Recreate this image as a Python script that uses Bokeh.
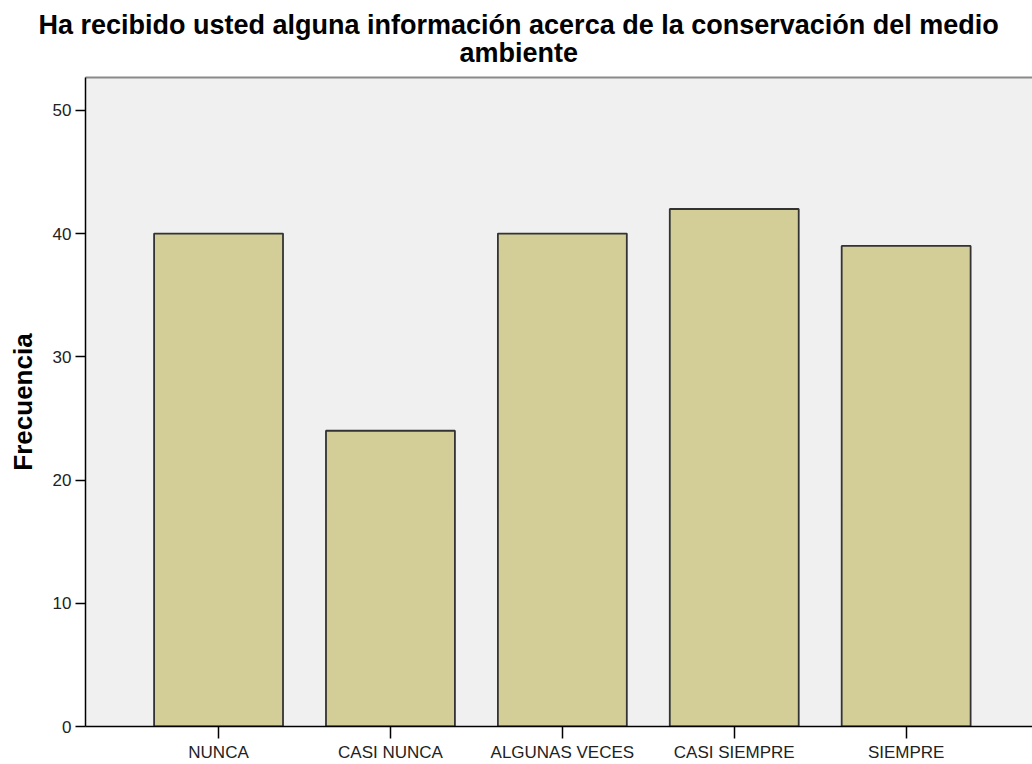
from bokeh.plotting import figure
from bokeh.models import Range1d, FixedTicker, LinearAxis, Title
from bokeh.embed import file_html
from bokeh.resources import INLINE

# ---- data ----
categories = ["NUNCA", "CASI NUNCA", "ALGUNAS VECES", "CASI SIEMPRE", "SIEMPRE"]
frecuencia = [40, 24, 40, 42, 39]
y_ticks = [0, 10, 20, 30, 40, 50]
title_lines = ["Ha recibido usted alguna información acerca de la conservación del medio",
               "ambiente"]
y_label = "Frecuencia"

positions = list(range(len(categories)))
FONT = "Liberation Sans"

p = figure(width=1032, height=764, output_backend="svg", toolbar_location=None,
           x_range=Range1d(-0.774, len(categories) - 1 + 0.735),
           y_range=Range1d(0, 52.67),
           min_border_left=85, min_border_right=0, min_border_top=77, min_border_bottom=36)
p.title = None
p.background_fill_color = "#F0F0F0"
p.border_fill_color = "white"
p.outline_line_color = None
p.xgrid.visible = False
p.ygrid.visible = False

p.vbar(x=positions, top=frecuencia, width=0.75, fill_color="#D3CE97",
       line_color="#333333", line_width=1.8)

# y axis
ya = p.yaxis[0]
ya.ticker = FixedTicker(ticks=y_ticks)
ya.minor_tick_line_color = None
ya.major_tick_in = 0
ya.major_tick_out = 10
ya.major_tick_line_color = "black"
ya.major_tick_line_width = 1.5
ya.axis_line_color = "black"
ya.axis_line_width = 1.5
ya.major_label_text_font = FONT
ya.major_label_text_font_size = "17px"
ya.major_label_text_color = "#222222"
ya.major_label_standoff = 4
ya.axis_label = y_label
ya.axis_label_text_font = FONT
ya.axis_label_text_font_size = "26px"
ya.axis_label_text_font_style = "bold"
ya.axis_label_text_color = "black"
ya.axis_label_standoff = 12

# x axis
xa = p.xaxis[0]
xa.ticker = FixedTicker(ticks=positions)
xa.major_label_overrides = {i: c for i, c in zip(positions, categories)}
xa.minor_tick_line_color = None
xa.major_tick_in = 0
xa.major_tick_out = 12
xa.major_tick_line_color = "black"
xa.major_tick_line_width = 1.5
xa.axis_line_color = "black"
xa.axis_line_width = 1.5
xa.major_label_text_font = FONT
xa.major_label_text_font_size = "17px"
xa.major_label_text_color = "#222222"
xa.major_label_standoff = 4

# top border line
top = LinearAxis(ticker=FixedTicker(ticks=[]), major_label_text_font_size="0px",
                 major_tick_line_color=None, minor_tick_line_color=None,
                 axis_line_color="#8a8a8a", axis_line_width=2)
p.add_layout(top, "above")

# title lines (second line closest to the plot)
t2 = Title(text=title_lines[1], align="left", offset=374, standoff=20,
           text_font=FONT, text_font_size="27px", text_font_style="bold", text_color="black")
t1 = Title(text=title_lines[0], align="left", offset=-47, standoff=-28,
           text_font=FONT, text_font_size="27px", text_font_style="bold", text_color="black")
p.add_layout(t2, "above")
p.add_layout(t1, "above")

open("out.html", "w").write(file_html(p, INLINE))
